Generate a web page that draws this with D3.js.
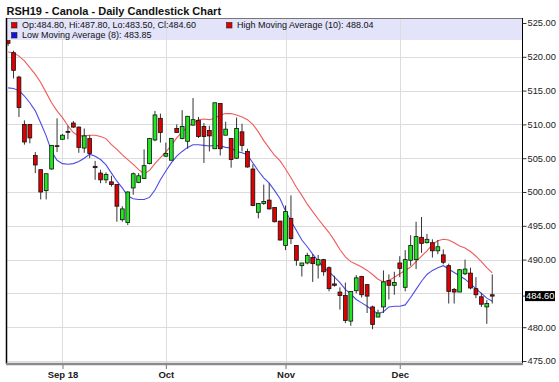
<!DOCTYPE html>
<html><head><meta charset="utf-8">
<script src="https://cdn.jsdelivr.net/npm/d3@7"></script>
<style>html,body{margin:0;padding:0;background:#fff;} svg{display:block;}</style>
</head><body>
<svg id="chart" width="559" height="382"></svg>
<script>
const title = "RSH19 - Canola - Daily Candlestick Chart";
const opens = [524.5,520.6,517.0,510.0,510.0,505.4,503.3,500.2,503.4,506.85, 507.8,508.95,510.2,509.6,506.5,507.9,503.8,502.8,501.8,501.5, 501.1,495.9,495.5,500.6,501.4,502.0,504.2,507.7,510.9,505.3, 504.7,509.4,507.9,507.5,509.9,510.6,509.7,509.1,506.4,513.1, 508.4,507.9,505.0,508.9,506.0,503.4,497.0,498.3,498.8,497.7, 495.7,492.1,496.1,492.1,489.1,489.5,490.3,489.2,490.0,488.8, 486.4,485.2,484.7,480.9,485.4,487.5,486.3,483.0,481.5,483.0, 486.9,486.2,489.5,485.9,489.9,490.0,493.3,492.5,492.5,491.3, 490.7,489.1,485.6,485.2,487.9,488.0,485.7,484.5,483.0,484.8];
const highs = [525.5,520.9,517.2,510.6,510.0,505.9,503.3,502.7,506.9,510.9, 508.6,509.8,510.5,509.7,509.4,508.4,504.6,503.3,502.9,502.4, 501.1,497.9,500.1,502.9,502.8,506.3,508.0,512.0,511.6,507.3, 508.0,510.0,512.1,511.2,513.9,511.1,510.2,509.8,513.2,513.1, 510.4,508.0,511.0,510.1,506.4,504.1,498.3,501.1,501.3,497.7, 495.7,498.0,499.5,492.1,489.5,491.0,490.8,490.7,490.1,489.0, 487.6,485.9,486.6,485.3,487.7,487.6,486.3,483.2,482.6,488.4, 487.8,488.2,490.5,491.4,493.6,495.6,496.3,493.8,493.0,492.9, 491.5,489.4,485.8,488.6,490.0,488.8,487.4,485.1,484.0,487.8];
const lows = [521.6,516.8,511.1,507.0,507.2,502.8,498.9,498.9,503.3,505.9, 507.7,507.8,509.5,505.8,505.8,505.0,501.8,501.3,501.3,500.8, 495.6,495.6,495.1,499.6,501.3,502.0,504.1,507.5,507.3,505.2, 504.7,508.8,507.8,506.4,509.8,508.0,504.3,506.0,506.4,505.4, 508.4,503.6,504.9,506.0,503.6,497.9,496.1,498.1,497.4,495.5, 492.8,491.4,492.3,489.1,487.5,489.3,486.7,487.2,487.6,485.3, 486.0,482.6,480.6,480.2,485.0,484.4,482.1,479.7,481.5,482.1, 484.1,484.8,487.4,485.3,489.1,488.6,491.0,492.4,490.3,490.8, 489.3,483.5,483.5,485.2,487.7,485.6,484.3,483.0,480.5,483.5];
const closes = [522.0,518.0,512.5,507.4,508.0,504.0,500.0,502.7,506.9,506.75, 508.4,508.85,509.6,506.6,508.3,505.7,503.6,501.8,502.6,501.1, 497.9,497.5,500.0,502.7,502.4,503.9,507.9,511.4,508.8,505.7, 507.9,508.8,509.7,511.2,510.7,508.2,508.2,508.3,513.2,506.4, 509.3,504.8,509.4,506.9,503.7,498.0,498.3,498.6,497.5,495.6, 492.9,497.1,493.1,489.9,489.5,490.6,489.4,490.0,488.2,485.7, 486.2,484.7,481.0,485.3,487.3,484.8,484.6,480.4,482.1,486.7, 486.2,486.6,488.7,490.0,492.1,493.4,492.4,493.0,491.3,491.9, 489.6,485.3,485.2,488.5,488.6,485.8,484.8,483.4,483.5,484.6];
const maHigh10 = [520.7,520.6,520.1,519.4,518.4,517.4,516.2,514.7,513.2,512.0, 511.0,509.8,508.8,508.3,508.3,508.4,508.4,508.2,507.9,507.0, 506.3,505.5,504.8,504.1,503.3,502.7,503.2,504.2,505.1,505.9, 506.9,508.0,508.9,509.6,510.2,510.7,510.8,510.7,510.9,511.4, 511.6,511.6,511.4,511.1,510.7,510.0,508.9,507.6,506.5,505.4, 504.6,503.4,502.1,500.7,499.5,498.2,497.1,496.0,495.0,494.0, 492.8,491.5,490.4,489.7,489.3,488.9,488.4,487.8,487.1,486.7, 486.9,487.4,487.9,488.4,488.9,489.7,490.5,491.3,492.2,492.8, 493.0,492.9,492.5,492.0,491.7,491.2,490.5,489.7,488.8,488.04];
const maLow8 = [515.4,515.3,515.0,514.2,513.2,512.0,510.2,508.3,506.0,504.7, 504.2,504.1,504.2,504.5,505.0,505.6,505.3,504.8,504.0,502.8, 501.6,500.6,499.4,499.0,498.9,498.9,499.2,500.3,501.8,503.1, 504.3,505.3,506.0,506.6,507.0,507.0,506.9,506.8,506.9,506.8, 506.6,506.5,506.0,505.8,505.5,504.3,503.1,502.1,501.3,500.2, 499.0,497.2,495.7,494.3,492.9,491.9,490.8,489.8,488.8,488.2, 487.4,486.6,485.6,484.9,484.1,483.6,483.1,482.5,482.0,482.3, 483.0,483.1,483.1,483.3,484.4,485.6,486.8,487.8,488.4,488.8, 489.1,488.6,488.1,487.6,487.1,486.4,485.7,485.0,484.3,483.85];
const monthTickIdx = [10, 29, 51, 72];
const monthTickLabels = ["Sep 18", "Oct", "Nov", "Dec"];
const gridValues = [475, 480, 485, 490, 495, 500, 505, 510, 515, 520, 525];
const yTickLabels = [475, 480, 490, 495, 500, 505, 510, 515, 520, 525];
const legendOHLC = "Op:484.80, Hi:487.80, Lo:483.50, Cl:484.60";
const legendHigh = "High Moving Average (10): 488.04";
const legendLow = "Low Moving Average (8): 483.85";
const lastPrice = 484.60;

const svg = d3.select("#chart");
const L = 7, R = 522, T = 18, B = 364;
const x = d3.scaleLinear().domain([-0.2, 94.47]).range([L, R]);
const y = d3.scaleLinear().domain([475, 525]).range([361, 23]);
const FONT = "'Liberation Sans', Arial, sans-serif";

svg.append("rect").attr("width", 559).attr("height", 382).attr("fill", "#fff");

// horizontal gridlines
svg.append("g").selectAll("line").data(gridValues).join("line")
  .attr("x1", L).attr("x2", R)
  .attr("y1", d => Math.round(y(d)) + 0.5).attr("y2", d => Math.round(y(d)) + 0.5)
  .attr("stroke", "#dcdcdc").attr("stroke-width", 1);

// legend background
svg.append("rect").attr("x", L).attr("y", T).attr("width", R - L).attr("height", 22)
  .attr("fill", "#e3e3fa");

// vertical gridlines
svg.append("g").selectAll("line").data(monthTickIdx).join("line")
  .attr("x1", d => Math.round(x(d)) + 0.5).attr("x2", d => Math.round(x(d)) + 0.5)
  .attr("y1", T).attr("y2", B)
  .attr("stroke", "#dcdcdc").attr("stroke-width", 1);

// clip
svg.append("clipPath").attr("id", "plotclip").append("rect")
  .attr("x", L).attr("y", 40).attr("width", R - L).attr("height", B - 40);
const plot = svg.append("g").attr("clip-path", "url(#plotclip)");

// moving averages
const line = d3.line().x((d, i) => x(i)).y(d => y(d));
plot.append("path").datum(maHigh10).attr("d", line)
  .attr("fill", "none").attr("stroke", "#f05a5a").attr("stroke-width", 1.1);
plot.append("path").datum(maLow8).attr("d", line)
  .attr("fill", "none").attr("stroke", "#4b4be8").attr("stroke-width", 1.1);

// candles
const idx = d3.range(opens.length);
const bw = 3.8;
const cg = plot.append("g").selectAll("g").data(idx).join("g");
cg.append("line")
  .attr("x1", i => x(i)).attr("x2", i => x(i))
  .attr("y1", i => y(highs[i])).attr("y2", i => y(lows[i]))
  .attr("stroke", "#333").attr("stroke-width", 1);
cg.append("rect")
  .attr("x", i => x(i) - bw / 2)
  .attr("y", i => y(Math.max(opens[i], closes[i])))
  .attr("width", bw)
  .attr("height", i => Math.max(0.8, Math.abs(y(opens[i]) - y(closes[i]))))
  .attr("fill", i => closes[i] >= opens[i] ? "#22e622" : "#e00000")
  .attr("stroke", "#111").attr("stroke-width", 0.8);

// frame
svg.append("line").attr("x1", L).attr("x2", R).attr("y1", T + 0.5).attr("y2", T + 0.5)
  .attr("stroke", "#777").attr("stroke-width", 1);
svg.append("line").attr("x1", L - 0.5).attr("x2", L - 0.5).attr("y1", T).attr("y2", B)
  .attr("stroke", "#000").attr("stroke-width", 1.5);
svg.append("line").attr("x1", R + 0.5).attr("x2", R + 0.5).attr("y1", T).attr("y2", B)
  .attr("stroke", "#000").attr("stroke-width", 1);
svg.append("line").attr("x1", L - 1).attr("x2", R + 1).attr("y1", B).attr("y2", B)
  .attr("stroke", "#8a8a8a").attr("stroke-width", 2.5);

// y axis (right)
const yAxis = d3.axisRight(y).tickValues(yTickLabels).tickSize(4).tickPadding(1)
  .tickFormat(d3.format(".2f"));
const ya = svg.append("g").attr("transform", `translate(${R + 0.5},0)`).call(yAxis);
ya.select(".domain").remove();
ya.selectAll("line").attr("stroke", "#333");
ya.selectAll("text").attr("font-family", FONT).attr("font-size", "9.3px").attr("fill", "#222");

// last price tag
svg.append("line").attr("x1", R + 0.5).attr("x2", R + 4.5)
  .attr("y1", y(lastPrice)).attr("y2", y(lastPrice)).attr("stroke", "#333");
svg.append("rect").attr("x", 525).attr("y", y(lastPrice) - 5).attr("width", 30).attr("height", 10)
  .attr("fill", "#000");
svg.append("text").attr("x", 526).attr("y", y(lastPrice)).attr("dy", "0.35em")
  .attr("font-family", FONT).attr("font-size", "9.3px").attr("fill", "#fff")
  .text(d3.format(".2f")(lastPrice));

// x axis
const xAxis = d3.axisBottom(x).tickValues(monthTickIdx).tickSize(4).tickPadding(2)
  .tickFormat((d, i) => monthTickLabels[i]);
const xa = svg.append("g").attr("transform", `translate(0,${B + 1})`).call(xAxis);
xa.select(".domain").remove();
xa.selectAll("line").attr("stroke", "#777");
xa.selectAll("text").attr("font-family", FONT).attr("font-size", "9.5px")
  .attr("font-weight", "bold").attr("fill", "#222");

// legend
const lg = svg.append("g").attr("font-family", FONT).attr("font-size", "9px").attr("fill", "#111");
function legItem(px, py, color, txt) {
  lg.append("rect").attr("x", px).attr("y", py).attr("width", 5.5).attr("height", 5.5)
    .attr("fill", color).attr("stroke", "#222").attr("stroke-width", 0.6);
  lg.append("text").attr("x", px + 10.5).attr("y", py + 5.5).text(txt);
}
legItem(11.5, 22.5, "#e00000", legendOHLC);
legItem(226.5, 22.5, "#e00000", legendHigh);
legItem(11.5, 32.5, "#1010e0", legendLow);

// title
svg.append("text").attr("x", 6.5).attr("y", 15).attr("font-family", FONT)
  .attr("font-size", "11px").attr("font-weight", "bold").attr("fill", "#111").text(title);
</script>
</body></html>
